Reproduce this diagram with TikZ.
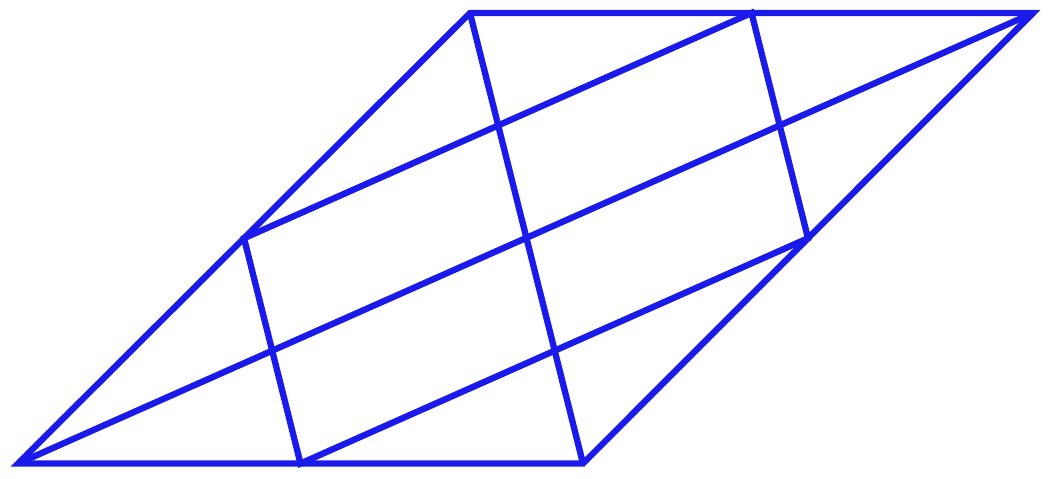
\documentclass[tikz,border=0pt]{standalone}
\usetikzlibrary{calc}
\definecolor{edgeblue}{RGB}{26,26,235}
\tikzset{edge/.style={draw=edgeblue,line width=1.8pt}}
\begin{document}
\begin{tikzpicture}
\useasboundingbox (0,0) rectangle (10.54,4.78);
\coordinate (A) at (0.18,0.145);
\coordinate (B) at (5.83,0.145);
\coordinate (C) at (10.33,4.65);
\coordinate (D) at (4.70,4.65);
\coordinate (AB) at ($(A)!0.5!(B)$);
\coordinate (BC) at ($(B)!0.5!(C)$);
\coordinate (CD) at ($(C)!0.5!(D)$);
\coordinate (DA) at ($(D)!0.5!(A)$);
\draw[edge] (A) -- (B) -- (C) -- (D) -- cycle;
\draw[edge] (DA) -- (CD) -- (BC) -- (AB) -- cycle;
\draw[edge] (A) -- (C);
\draw[edge] (D) -- (B);
\end{tikzpicture}
\end{document}
